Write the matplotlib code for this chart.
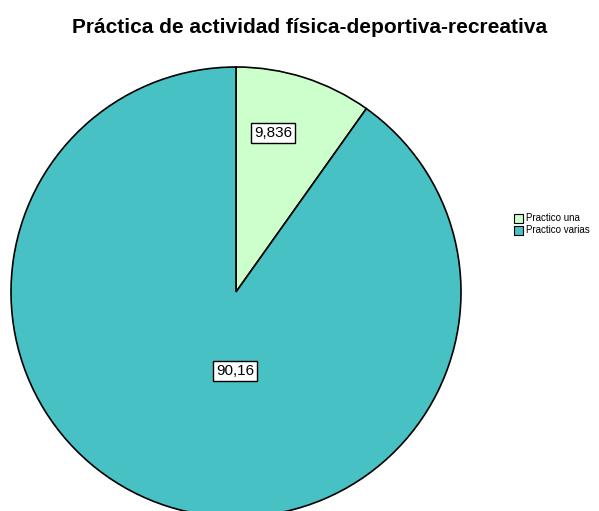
import matplotlib
matplotlib.use("Agg")
import matplotlib.pyplot as plt
from matplotlib.patches import Rectangle

title = "Práctica de actividad física-deportiva-recreativa"
categories = ["Practico una", "Practico varias"]
values = [9.836, 90.16]
value_labels = ["9,836", "90,16"]
colors = ["#CCFFCC", "#48C1C5"]

W, H = 599, 511
fig = plt.figure(figsize=(W / 100, H / 100), dpi=100)
ax = fig.add_axes([0, 0, 1, 1])
ax.set_xlim(0, W)
ax.set_ylim(0, H)
ax.set_aspect("equal")
ax.axis("off")

cx, cy, r = 236, H - 292, 225
wedges, _ = ax.pie(values, colors=colors, startangle=90, counterclock=False,
                   center=(cx, cy), radius=r, frame=True,
                   wedgeprops=dict(edgecolor="black", linewidth=1.2))
ax.set_xlim(0, W)
ax.set_ylim(0, H)
ax.axis("off")

label_pos = [(273, H - 133), (235, H - 371)]
for (x, y), txt in zip(label_pos, value_labels):
    ax.text(x, y, txt, ha="center", va="center", fontsize=11,
            family="Liberation Sans", color="black",
            bbox=dict(boxstyle="square,pad=0.18", facecolor="white",
                      edgecolor="black", linewidth=1.0))

fig.text(310 / W, 1 - 27 / H, title, ha="center", va="center",
         fontsize=15, fontweight="bold", family="Liberation Sans")

# legend drawn as small swatches with labels
for i, (name, col) in enumerate(zip(categories, colors)):
    y = H - (218 + i * 12)
    ax.add_patch(Rectangle((514, y - 4.5), 9, 9, facecolor=col,
                           edgecolor="black", linewidth=0.8, clip_on=False))
    ax.text(526, y, name, ha="left", va="center", fontsize=7,
            family="Liberation Sans")

fig.savefig("out.png", dpi=100)
